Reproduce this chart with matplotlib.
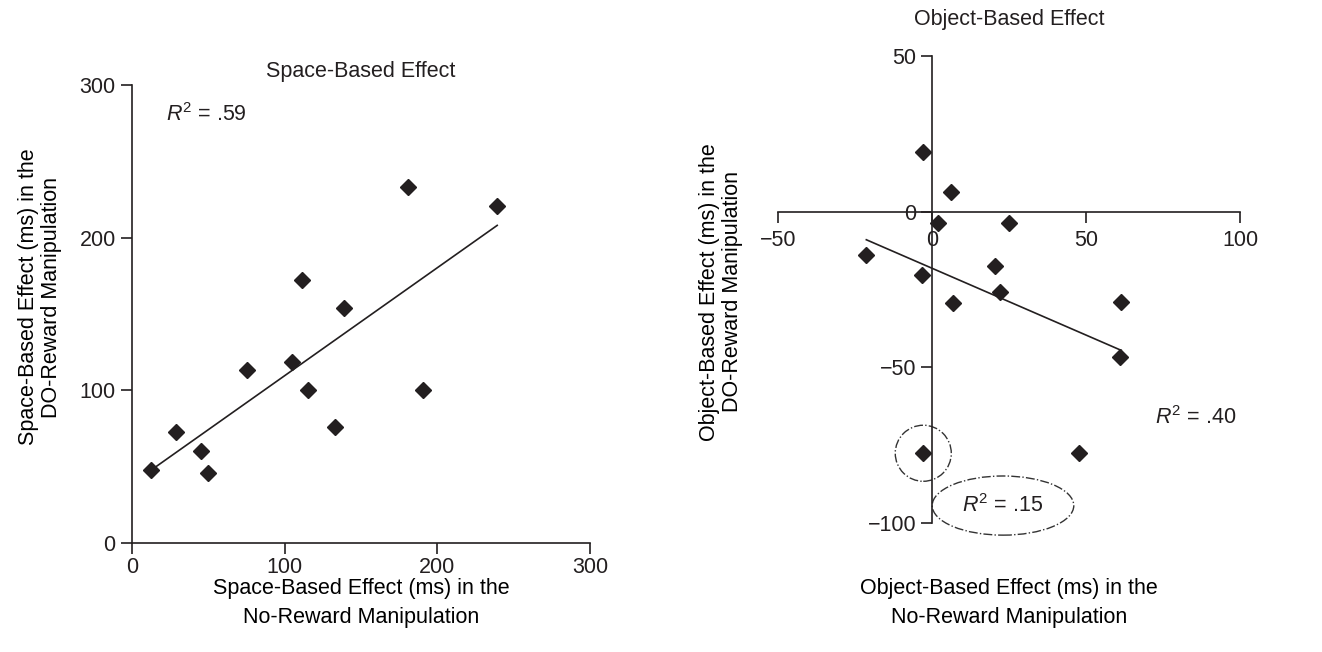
import matplotlib
matplotlib.use('Agg')
import matplotlib.pyplot as plt
import numpy as np
from matplotlib.patches import Ellipse

plt.rcParams['font.family'] = ['Liberation Sans', 'DejaVu Sans']
plt.rcParams['font.size'] = 15.5
plt.rcParams['mathtext.fontset'] = 'custom'
plt.rcParams['mathtext.rm'] = 'Liberation Sans'
plt.rcParams['mathtext.it'] = 'Liberation Sans:italic'
plt.rcParams['text.color'] = '#231f20'

# Space-based effect (ms)
space_no_reward = [12.4, 29.0, 45.4, 49.6, 75.5, 104.8, 111.4, 115.1, 133.0, 138.6, 181.0, 190.6, 239.1]
space_do_reward = [47.7, 72.4, 60.1, 45.9, 113.3, 118.7, 172.5, 100.2, 75.9, 154.2, 233.1, 100.0, 220.9]
space_fit = (0.709, 38.6)  # slope, intercept

# Object-based effect (ms)
obj_no_reward = [-2.9, 6.2, 1.8, 25.0, -21.4, 20.5, -3.2, 22.0, 6.8, 61.4, 60.9, -2.9, 47.6]
obj_do_reward = [19.1, 6.4, -3.5, -3.5, -13.9, -17.5, -20.3, -25.7, -29.2, -29.0, -46.8, -77.6, -77.6]
obj_fit = (-0.429, -18.2)
outlier = 11  # circled point

ink = '#231f20'
fs = 15.5
fig = plt.figure(figsize=(13.22, 6.52), dpi=100)

# ---- left panel
ax1 = fig.add_axes([131.7/1322, 1 - 542.7/652, 458.6/1322, 457.4/652])
ax1.plot(space_no_reward, space_do_reward, 'D', color=ink, ms=8.5, clip_on=False)
xs = np.array([min(space_no_reward) + 3, max(space_no_reward)])
ax1.plot(xs, space_fit[0] * xs + space_fit[1], color=ink, lw=1.2)
ax1.set_xlim(0, 300)
ax1.set_ylim(0, 300)
ax1.set_xticks([0, 100, 200, 300])
ax1.set_yticks([0, 100, 200, 300])
for s in ['top', 'right']:
    ax1.spines[s].set_visible(False)
for s in ['left', 'bottom']:
    ax1.spines[s].set_linewidth(1.2)
    ax1.spines[s].set_color(ink)
ax1.tick_params(direction='out', length=8, width=1.2, labelsize=fs, color=ink, labelcolor=ink)
ax1.tick_params(axis='x', pad=2)
ax1.set_title('Space-Based Effect', fontsize=fs, pad=6)
ax1.set_xlabel('Space-Based Effect (ms) in the\nNo-Reward Manipulation', fontsize=fs, linespacing=1.5)
ax1.xaxis.set_label_coords(0.5, -0.078)
ax1.set_ylabel('Space-Based Effect (ms) in the\nDO-Reward Manipulation', fontsize=fs, linespacing=1.15)
ax1.yaxis.set_label_coords(-0.152, 0.537)
ax1.text(49, 281, r'$\mathit{R}^2$ = .59', fontsize=fs, ha='center', va='center')

# ---- right panel
ax2 = fig.add_axes([778.3/1322, 1 - 523/652, 461.7/1322, 467/652])
ax2.plot(obj_no_reward, obj_do_reward, 'D', color=ink, ms=8.5, clip_on=False)
xs2 = np.array([min(obj_no_reward), max(obj_no_reward)])
ax2.plot(xs2, obj_fit[0] * xs2 + obj_fit[1], color=ink, lw=1.2)
ax2.set_xlim(-50, 100)
ax2.set_ylim(-100, 50)
ax2.set_xticks([-50, 0, 50, 100])
ax2.set_yticks([-100, -50, 0, 50])
ax2.set_xticklabels(['\u221250', '0', '50', '100'])
ax2.set_yticklabels(['\u2212100', '\u221250', '0', '50'])
ax2.spines['left'].set_position(('data', 0))
ax2.spines['bottom'].set_position(('data', 0))
for s in ['top', 'right']:
    ax2.spines[s].set_visible(False)
for s in ['left', 'bottom']:
    ax2.spines[s].set_linewidth(1.2)
    ax2.spines[s].set_color(ink)
ax2.tick_params(direction='out', length=8, width=1.2, labelsize=fs, color=ink, labelcolor=ink)
ax2.tick_params(axis='x', pad=5)
ax2.set_title('Object-Based Effect', fontsize=fs, pad=22)
ax2.set_xlabel('Object-Based Effect (ms) in the\nNo-Reward Manipulation', fontsize=fs, linespacing=1.5)
ax2.xaxis.set_label_coords(0.5, -0.117)
ax2.set_ylabel('Object-Based Effect (ms) in the\nDO-Reward Manipulation', fontsize=fs, linespacing=1.15)
ax2.yaxis.set_label_coords(-0.076, 0.495)
ax2.text(85.6, -66.1, r'$\mathit{R}^2$ = .40', fontsize=fs, ha='center', va='center')
ax2.text(23.0, -94.4, r'$\mathit{R}^2$ = .15', fontsize=fs, ha='center', va='center')
ax2.add_patch(Ellipse((obj_no_reward[outlier], obj_do_reward[outlier]), 18.2, 18.0,
                      fill=False, ls='-.', lw=1.0, color='#333333', clip_on=False))
ax2.add_patch(Ellipse((23.0, -94.4), 46, 19, fill=False, ls='-.', lw=1.0,
                      color='#333333', clip_on=False))

fig.savefig('out.png', dpi=100)
